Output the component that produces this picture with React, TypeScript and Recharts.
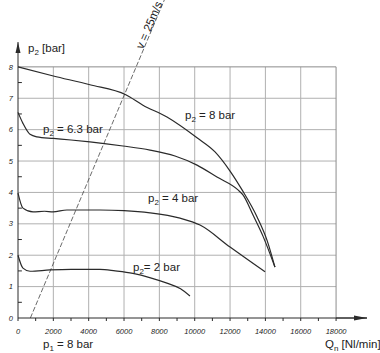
import React from 'react';
import { LineChart, Line, XAxis, YAxis } from 'recharts';

// Qn [Nl/min] ticks and p2 [bar] ticks
const qTicks = [0, 1000, 2000, 3000, 4000, 5000, 6000, 7000, 8000, 9000, 10000, 11000, 12000, 13000, 14000, 15000, 16000, 17000, 18000];
const pTicks = [0, 1, 2, 3, 4, 5, 6, 7, 8];
const gridQ = [2000, 4000, 6000, 8000, 10000, 12000, 14000, 16000];
const gridP = [1, 2, 3, 4, 5, 6, 7];
const minorP = [0.5, 1.5, 2.5, 3.5, 4.5, 5.5, 6.5, 7.5];

// p2 = 8 bar
const qP8 = [0, 2000, 4070, 6100, 7070, 8430, 10130, 11150, 12000, 12680, 13530, 14090, 14540];
const pP8 = [8.0, 7.71, 7.43, 7.11, 6.78, 6.4, 5.74, 5.29, 4.68, 4.08, 3.22, 2.48, 1.62];

// p2 = 6.3 bar
const qP63 = [0, 280, 680, 1070, 2000, 3000, 4070, 5940, 7470, 8885, 10130, 11260, 12450, 12730, 13300, 13870, 14540];
const pP63 = [6.55, 6.2, 5.85, 5.77, 5.72, 5.67, 5.61, 5.48, 5.35, 5.16, 4.87, 4.49, 4.08, 3.92, 3.28, 2.6, 1.62];

// p2 = 4 bar
const qP4 = [0, 280, 850, 1500, 1980, 2770, 4640, 6000, 7470, 9170, 10300, 12000, 13980];
const pP4 = [3.98, 3.5, 3.38, 3.4, 3.38, 3.44, 3.44, 3.42, 3.35, 3.18, 2.96, 2.26, 1.47];

// p2 = 2 bar
const qP2 = [0, 280, 680, 1810, 3000, 4640, 5500, 6500, 7500, 8430, 9200, 9730];
const pP2 = [2.0, 1.59, 1.49, 1.53, 1.55, 1.55, 1.5, 1.42, 1.28, 1.11, 0.93, 0.7];

// v = 25 m/s
const qV = [700, 8280];
const pV = [0, 10.13];

const Q_MAX = 18000;
const P_MAX = 8;
const Q_END = 19750;
const P_END = 8.79;

const toRows = (q: number[], p: number[]) => q.map((x, i) => ({ q: x, p: p[i] }));

const FONT = '"Liberation Sans", Arial, sans-serif';
const INK = '#2a2a2a';
const GRID = '#b0b0b0';

// arrow heads drawn as the last dot of the axis lines
const yArrowDot = (props: any) => {
  const { cx, cy, index } = props;
  if (index !== 1) return <g key={`ya${index}`} />;
  return <path key="ya" d={`M${cx} ${cy} L${cx - 2.5} ${cy + 11} L${cx + 2.5} ${cy + 11} Z`} fill={INK} />;
};

const xArrowDot = (props: any) => {
  const { cx, cy, index } = props;
  if (index !== 1) return <g key={`xa${index}`} />;
  return <path key="xa" d={`M${cx} ${cy} L${cx - 13} ${cy - 2.5} L${cx - 13} ${cy + 2.5} Z`} fill={INK} />;
};

const Sub = ({ children }: { children: React.ReactNode }) => (
  <span style={{ fontSize: 8, position: 'relative', top: 2.5 }}>{children}</span>
);

const txt = (left: number, top: number): React.CSSProperties => ({
  position: 'absolute',
  left,
  top,
  fontFamily: FONT,
  fontSize: 11.5,
  lineHeight: '12px',
  color: '#222',
  whiteSpace: 'nowrap',
});

const tickStyle = { fontFamily: FONT, fontSize: 7.5, fontStyle: 'italic', fill: '#222' };

// thin straight helper line drawn through the chart scales
const rule = (key: string, q: number[], p: number[], color: string, width = 1, dot: any = false) => (
  <Line
    key={key}
    data={toRows(q, p)}
    dataKey="p"
    type="linear"
    stroke={color}
    strokeWidth={width}
    dot={dot}
    isAnimationActive={false}
  />
);

export default function App() {
  return (
    <div style={{ position: 'absolute', left: 0, top: 0, width: 380, height: 353, background: '#fff' }}>
      <LineChart width={380} height={353} margin={{ top: 0, right: 13, bottom: 0, left: 0 }}>
        <XAxis
          dataKey="q"
          type="number"
          domain={[0, Q_END]}
          ticks={qTicks}
          tickFormatter={(v: number) => (v % 2000 === 0 ? String(v) : '')}
          tick={tickStyle}
          tickSize={3}
          tickMargin={8}
          height={35}
          stroke={INK}
          interval={0}
        />
        <YAxis
          dataKey="p"
          type="number"
          domain={[0, 10.13]}
          ticks={pTicks}
          tick={tickStyle}
          tickLine={false}
          axisLine={false}
          tickSize={3}
          tickMargin={2}
          width={18}
          interval={0}
        />
        {gridQ.map((g) => rule(`gq${g}`, [g, g], [0, P_MAX], GRID))}
        {gridP.map((g) => rule(`gp${g}`, [0, Q_MAX], [g, g], GRID))}
        {rule('top', [0, Q_MAX], [P_MAX, P_MAX], '#8c8c8c')}
        {rule('right', [Q_MAX, Q_MAX], [0, P_MAX], '#8c8c8c')}
        {minorP.map((m) => rule(`mp${m}`, [0, 220], [m, m], INK))}
        {rule('yaxis', [0, 0], [0, P_END], INK, 1, yArrowDot)}
        {rule('xarrow', [Q_MAX, Q_END], [0, 0], INK, 1, xArrowDot)}

        <Line data={toRows(qV, pV)} dataKey="p" type="linear" stroke="#444" strokeWidth={0.8} strokeDasharray="5 2" dot={false} isAnimationActive={false} />
        <Line data={toRows(qP8, pP8)} dataKey="p" type="monotone" stroke={INK} strokeWidth={1.2} dot={false} isAnimationActive={false} />
        <Line data={toRows(qP63, pP63)} dataKey="p" type="monotone" stroke={INK} strokeWidth={1.2} dot={false} isAnimationActive={false} />
        <Line data={toRows(qP4, pP4)} dataKey="p" type="monotone" stroke={INK} strokeWidth={1.2} dot={false} isAnimationActive={false} />
        <Line data={toRows(qP2, pP2)} dataKey="p" type="monotone" stroke={INK} strokeWidth={1.2} dot={false} isAnimationActive={false} />
      </LineChart>

      <div style={txt(28, 42)}>p<Sub>2</Sub> [bar]</div>
      <div style={txt(43, 123)}>p<Sub>2</Sub> = 6.3 bar</div>
      <div style={txt(185, 109)}>p<Sub>2</Sub> = 8 bar</div>
      <div style={txt(148, 192)}>p<Sub>2</Sub> = 4 bar</div>
      <div style={txt(133, 261)}>p<Sub>2</Sub>= 2 bar</div>
      <div style={txt(43, 338)}>p<Sub>1</Sub> = 8 bar</div>
      <div style={txt(325, 338)}>Q<Sub>n</Sub> [Nl/min]</div>
      <div
        style={{
          ...txt(121, 19),
          width: 56,
          textAlign: 'center',
          transform: 'rotate(-66.7deg)',
          transformOrigin: '50% 50%',
        }}
      >
        v = 25m/s
      </div>
    </div>
  );
}
